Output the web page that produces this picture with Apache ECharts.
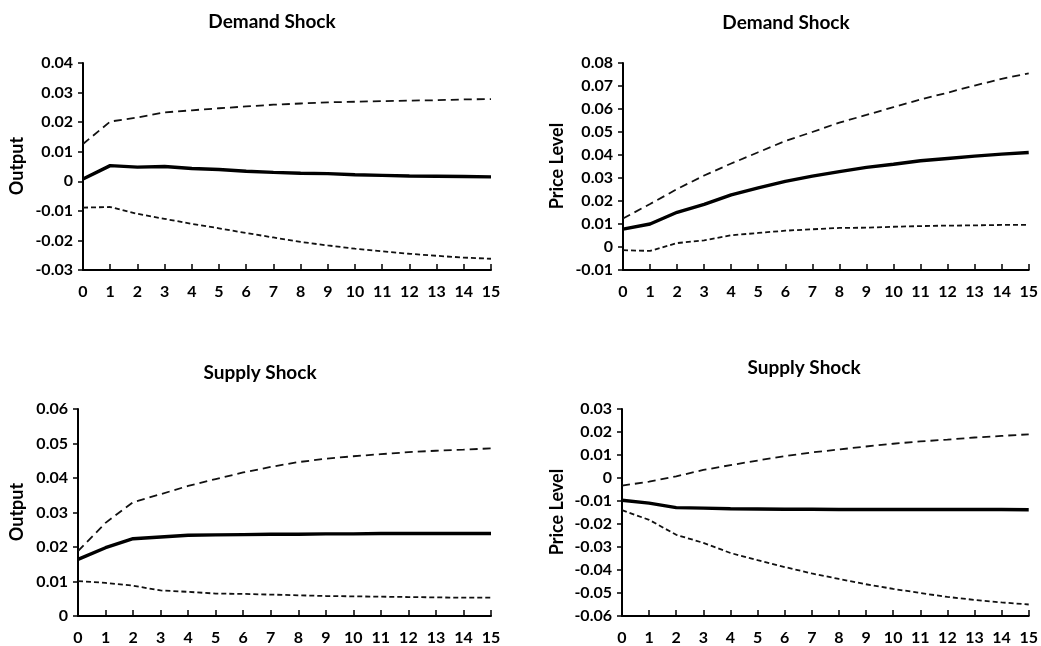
<!DOCTYPE html>
<html>
<head>
<meta charset="utf-8">
<script src="https://cdn.jsdelivr.net/npm/echarts@6/dist/echarts.min.js"></script>
<style>
  html, body { margin: 0; padding: 0; background: #fff; }
  #chart { width: 1041px; height: 646px; }
</style>
</head>
<body>
<div id="chart"></div>
<script>
// Horizons (periods after the shock)
const periods = ['0','1','2','3','4','5','6','7','8','9','10','11','12','13','14','15'];

// Demand shock -> output: response and confidence bands
const demandOutput      = [0.0008, 0.0053, 0.0048, 0.0050, 0.0043, 0.0040, 0.0034, 0.0030, 0.0027, 0.0026, 0.0022, 0.0020, 0.0018, 0.0017, 0.0016, 0.0015];
const demandOutputUpper = [0.0126, 0.0202, 0.0216, 0.0233, 0.0240, 0.0247, 0.0253, 0.0259, 0.0263, 0.0267, 0.0269, 0.0271, 0.0273, 0.0274, 0.0277, 0.0278];
const demandOutputLower = [-0.0089, -0.0087, -0.0110, -0.0127, -0.0144, -0.0159, -0.0175, -0.0190, -0.0205, -0.0217, -0.0228, -0.0237, -0.0245, -0.0252, -0.0258, -0.0262];

// Demand shock -> price level
const demandPrice      = [0.0078, 0.0100, 0.0151, 0.0185, 0.0227, 0.0257, 0.0285, 0.0308, 0.0328, 0.0346, 0.0360, 0.0375, 0.0385, 0.0395, 0.0404, 0.0411];
const demandPriceUpper = [0.0124, 0.0187, 0.0252, 0.0311, 0.0363, 0.0412, 0.0461, 0.0500, 0.0541, 0.0574, 0.0608, 0.0641, 0.0671, 0.0702, 0.0731, 0.0755];
const demandPriceLower = [-0.0014, -0.0017, 0.0017, 0.0029, 0.0051, 0.0061, 0.0071, 0.0077, 0.0083, 0.0084, 0.0088, 0.0091, 0.0093, 0.0094, 0.0096, 0.0096];

// Supply shock -> output
const supplyOutput      = [0.0164, 0.0198, 0.0224, 0.0229, 0.0234, 0.0235, 0.0236, 0.0237, 0.0237, 0.0238, 0.0238, 0.0239, 0.0239, 0.0239, 0.0239, 0.0239];
const supplyOutputUpper = [0.0188, 0.0270, 0.0330, 0.0353, 0.0377, 0.0397, 0.0416, 0.0432, 0.0446, 0.0456, 0.0463, 0.0469, 0.0475, 0.0479, 0.0482, 0.0486];
const supplyOutputLower = [0.0101, 0.0096, 0.0088, 0.0074, 0.0070, 0.0065, 0.0064, 0.0062, 0.0060, 0.0058, 0.0057, 0.0056, 0.0055, 0.0054, 0.0053, 0.0053];

// Supply shock -> price level
const supplyPrice      = [-0.0097, -0.0109, -0.0129, -0.0131, -0.0134, -0.0135, -0.0136, -0.0136, -0.0137, -0.0137, -0.0137, -0.0137, -0.0137, -0.0137, -0.0137, -0.0138];
const supplyPriceUpper = [-0.0033, -0.0016, 0.0007, 0.0035, 0.0056, 0.0076, 0.0095, 0.0111, 0.0124, 0.0137, 0.0149, 0.0159, 0.0167, 0.0176, 0.0183, 0.0190];
const supplyPriceLower = [-0.0140, -0.0182, -0.0247, -0.0282, -0.0326, -0.0357, -0.0387, -0.0415, -0.0439, -0.0462, -0.0482, -0.0500, -0.0517, -0.0530, -0.0541, -0.0550];

// Panel titles and axis names
const panelTitles = ['Demand Shock', 'Demand Shock', 'Supply Shock', 'Supply Shock'];
const panelNames  = ['Output', 'Price Level', 'Output', 'Price Level'];

// y-axis ranges per panel: [min, max, interval]
const yRanges = [
  [-0.03, 0.04, 0.01],
  [-0.01, 0.08, 0.01],
  [0, 0.06, 0.01],
  [-0.06, 0.03, 0.01]
];

const FONT = 'Lato, "Open Sans", sans-serif';

const panels = [
  { grid: { left: 83,  top: 63,  width: 408, height: 207 }, data: [demandOutput, demandOutputUpper, demandOutputLower], title: [272, 22], name: [17, 166] },
  { grid: { left: 623, top: 63,  width: 408, height: 207 }, data: [demandPrice, demandPriceUpper, demandPriceLower],    title: [786, 23], name: [557, 166] },
  { grid: { left: 78,  top: 409, width: 413, height: 208 }, data: [supplyOutput, supplyOutputUpper, supplyOutputLower], title: [260, 373], name: [17, 512] },
  { grid: { left: 622, top: 409, width: 409, height: 208 }, data: [supplyPrice, supplyPriceUpper, supplyPriceLower],    title: [804, 368], name: [557, 512] }
];

function fmt(v) {
  if (Math.abs(v) < 1e-9) return '0';
  return v.toFixed(2);
}

const grids = [], xAxes = [], yAxes = [], series = [], graphics = [];

panels.forEach((p, i) => {
  grids.push(Object.assign({ containLabel: false }, p.grid));

  xAxes.push({
    type: 'category',
    gridIndex: i,
    data: periods,
    boundaryGap: false,
    axisLine: { onZero: false, lineStyle: { color: '#000', width: 2 } },
    axisTick: { inside: true, length: 6, interval: 0, lineStyle: { color: '#000', width: 1.5 } },
    axisLabel: { interval: 0, margin: 14, color: '#000', fontFamily: FONT, fontWeight: 'bold', fontSize: 16 },
    splitLine: { show: false }
  });

  const r = yRanges[i];
  yAxes.push({
    type: 'value',
    gridIndex: i,
    min: r[0], max: r[1], interval: r[2],
    axisLine: { show: true, lineStyle: { color: '#000', width: 2 } },
    axisTick: { show: true, inside: false, length: 5, lineStyle: { color: '#000', width: 1.5 } },
    axisLabel: { margin: 10, color: '#000', fontFamily: FONT, fontWeight: 'bold', fontSize: 16, formatter: fmt },
    splitLine: { show: false }
  });

  const [mid, upper, lower] = p.data;
  series.push({
    type: 'line', xAxisIndex: i, yAxisIndex: i, data: upper,
    symbol: 'none', lineStyle: { color: '#111', width: 1.8, type: [8, 5] }, z: 2
  });
  series.push({
    type: 'line', xAxisIndex: i, yAxisIndex: i, data: lower,
    symbol: 'none', lineStyle: { color: '#111', width: 1.8, type: [5, 3] }, z: 2
  });
  series.push({
    type: 'line', xAxisIndex: i, yAxisIndex: i, data: mid,
    symbol: 'none', lineStyle: { color: '#000', width: 3.4, type: 'solid' }, z: 3
  });

  graphics.push({
    type: 'text', x: p.title[0], y: p.title[1],
    style: { text: panelTitles[i], fill: '#000', font: 'bold 19px ' + FONT, textAlign: 'center', textVerticalAlign: 'middle' }
  });
  graphics.push({
    type: 'text', x: p.name[0], y: p.name[1], rotation: Math.PI / 2,
    style: { text: panelNames[i], fill: '#000', font: 'bold 18px ' + FONT, textAlign: 'center', textVerticalAlign: 'middle' }
  });
});

const chart = echarts.init(document.getElementById('chart'), null, { renderer: 'canvas' });
chart.setOption({
  animation: false,
  backgroundColor: '#fff',
  grid: grids,
  xAxis: xAxes,
  yAxis: yAxes,
  series: series,
  graphic: graphics
});
</script>
</body>
</html>
